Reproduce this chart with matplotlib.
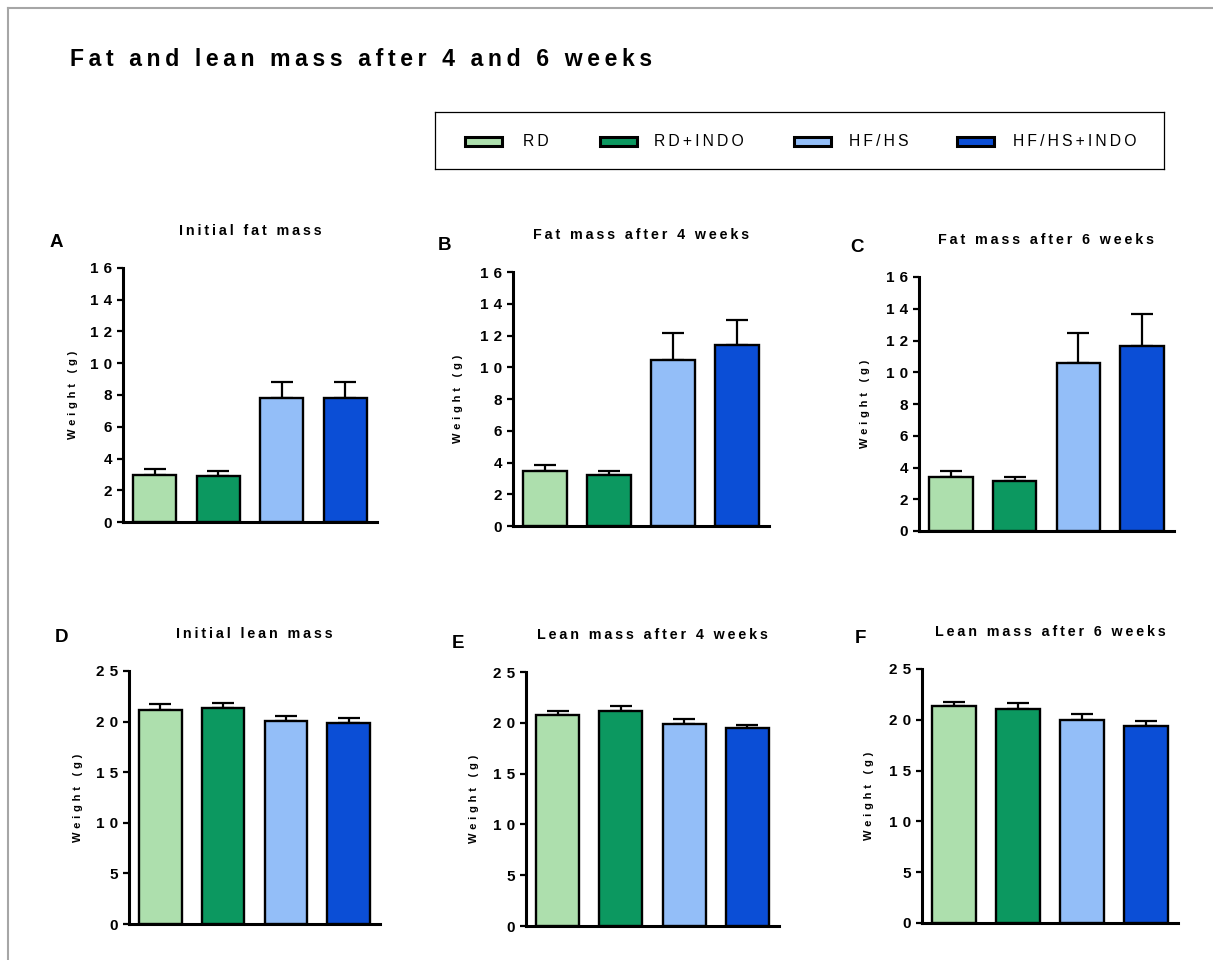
import matplotlib
matplotlib.use("Agg")
import matplotlib.pyplot as plt
from matplotlib.patches import Rectangle
from matplotlib.lines import Line2D
import numpy as np

plt.rcParams["font.family"] = ["Liberation Sans", "DejaVu Sans"]

# figure size in pixels (dpi 100)
W, H = 1213, 960
THIN = "\u2009"
THIRD = "\u2004"

groups = ["RD", "RD+INDO", "HF/HS", "HF/HS+INDO"]
colors = ["#addfad", "#0c9860", "#93bef8", "#0b4ed6"]

fat_ticks = [0, 2, 4, 6, 8, 10, 12, 14, 16]
lean_ticks = [0, 5, 10, 15, 20, 25]

# group means and upper SEM, grams
fat_initial = [2.95, 2.88, 7.79, 7.79]
fat_initial_sem = [0.38, 0.32, 1.05, 1.05]
fat_4w = [3.47, 3.24, 10.44, 11.39]
fat_4w_sem = [0.36, 0.23, 1.69, 1.60]
fat_6w = [3.41, 3.17, 10.58, 11.67]
fat_6w_sem = [0.35, 0.22, 1.89, 2.00]
lean_initial = [21.18, 21.30, 20.10, 19.90]
lean_initial_sem = [0.52, 0.58, 0.50, 0.43]
lean_4w = [20.76, 21.15, 19.87, 19.44]
lean_4w_sem = [0.42, 0.49, 0.52, 0.36]
lean_6w = [21.32, 21.09, 20.00, 19.38]
lean_6w_sem = [0.39, 0.55, 0.59, 0.46]


def spaced(s, gap=THIN):
    # Prism-style letter spacing
    return gap.join(s)


fig = plt.figure(figsize=(W / 100, H / 100), dpi=100)


def px_axes(left, right, top, bottom):
    return fig.add_axes([left / W, 1 - bottom / H, (right - left) / W, (bottom - top) / H])


# letter, title, means, sem, ticks, axes box (l, r, t, b), letter pos (x, baseline), ylabel x
panels = [
    ("A", "Initial fat mass", fat_initial, fat_initial_sem, fat_ticks,
     (123, 377, 268, 522), (50, 247), 73),
    ("B", "Fat mass after 4 weeks", fat_4w, fat_4w_sem, fat_ticks,
     (513, 769, 272, 526), (438, 250), 458),
    ("C", "Fat mass after 6 weeks", fat_6w, fat_6w_sem, fat_ticks,
     (919, 1174, 277, 531), (850, 252), 865),
    ("D", "Initial lean mass", lean_initial, lean_initial_sem, lean_ticks,
     (129, 380, 671, 924), (55, 642), 78),
    ("E", "Lean mass after 4 weeks", lean_4w, lean_4w_sem, lean_ticks,
     (526, 779, 672, 926), (452, 648), 474),
    ("F", "Lean mass after 6 weeks", lean_6w, lean_6w_sem, lean_ticks,
     (922, 1178, 669, 923), (855, 643), 869),
]

x = np.arange(len(groups))
for letter, title, means, sem, ticks, box, lpos, ylab_x in panels:
    left, right, top, bottom = box
    ax = px_axes(left, right, top, bottom)
    ax.bar(x, means, width=0.68, color=colors, edgecolor="black", linewidth=1.7, zorder=3)
    ax.errorbar(x, means, yerr=[np.zeros(len(sem)), sem], fmt="none", ecolor="black",
                elinewidth=1.6, capsize=7.8, capthick=1.6, zorder=2)
    ax.set_xlim(-0.5, 3.5)
    ax.set_ylim(0, ticks[-1])
    ax.set_yticks(ticks, labels=[spaced(str(t), THIRD) for t in ticks],
                  fontweight="bold", fontsize=11)
    ax.tick_params(axis="y", direction="out", length=4.5, width=1.6, pad=3.5)
    ax.tick_params(axis="x", length=0, labelbottom=False)
    for side in ("top", "right"):
        ax.spines[side].set_visible(False)
    for side in ("left", "bottom"):
        ax.spines[side].set_linewidth(2.2)
    ax.set_title(spaced(title), fontsize=10.3, fontweight="bold", pad=24)
    ax.text((ylab_x - left) / (right - left), 0.5, spaced("Weight (g)", THIRD), rotation=90,
            ha="center", va="center", transform=ax.transAxes, fontsize=8, fontweight="bold")
    fig.text(lpos[0] / W, 1 - lpos[1] / H, letter, fontsize=13.5, fontweight="bold",
             ha="left", va="baseline")

# legend box, drawn in pixel units
lax = px_axes(435, 1164, 112, 169)
lax.set_xlim(435, 1164)
lax.set_ylim(169, 112)
lax.set_xticks([])
lax.set_yticks([])
for sp in lax.spines.values():
    sp.set_linewidth(0.9)
entry_x = [464.5, 599.5, 793.5, 956.5]
label_x = [523, 654, 849, 1013]
for name, c, ex, tx in zip(groups, colors, entry_x, label_x):
    lax.add_patch(Rectangle((ex, 136.5), 37, 9, facecolor=c, edgecolor="black", linewidth=2.2))
    lax.text(tx, 141.5, spaced(name), fontsize=11.3, ha="left", va="center")

fig.text(70 / W, 1 - 66 / H, spaced("Fat and lean mass after 4 and 6 weeks"), fontsize=16.6,
         fontweight="bold", ha="left", va="baseline")

# grey frame along the top and left edges
fig.add_artist(Line2D([7.7 / W, 1], [1 - 7.7 / H] * 2, transform=fig.transFigure,
                      color="#a6a6a6", linewidth=1.5))
fig.add_artist(Line2D([7.7 / W] * 2, [0, 1 - 7.7 / H], transform=fig.transFigure,
                      color="#a6a6a6", linewidth=1.5))

fig.savefig("out.png", dpi=100)
